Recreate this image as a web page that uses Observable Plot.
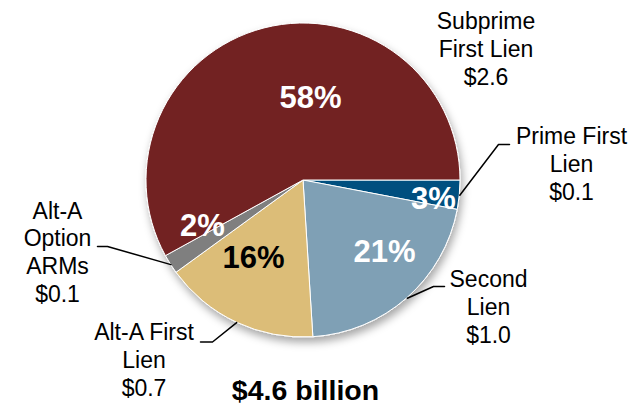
<!DOCTYPE html>
<html><head><meta charset="utf-8">
<script src="https://cdn.jsdelivr.net/npm/d3@7"></script>
<script src="https://cdn.jsdelivr.net/npm/@observablehq/plot@0.6"></script>
<style>html,body{margin:0;padding:0;background:#fff} svg{display:block}</style>
</head><body><div id="chart"></div>
<script>
// ---- data ----
const categories = ["Prime First Lien", "Second Lien", "Alt-A First Lien", "Alt-A Option ARMs", "Subprime First Lien"];
const shares = [3, 21, 16, 2, 58];            // percent of total
const amounts = [0.1, 1.0, 0.7, 0.1, 2.6];    // $ billion
const totalLabel = "$4.6 billion";

// ---- styles / layout ----
const colors = ["#00507f", "#7fa0b5", "#dcbd78", "#7f7f7f", "#722223"];
const W = 644, H = 406, CX = 303, CY = 180, R = 157;
const labelBreaks = ["Prime First\nLien", "Second\nLien", "Alt-A First\nLien", "Alt-A\nOption\nARMs", "Subprime\nFirst Lien"];
const labelPos = [[571, 199], [488, 342], [143.5, 395], [57, 301], [485.5, 84]];   // centre x, last baseline
const leaderElbow = [[498, 144], [433, 286], [212, 341.5], [107, 246], null];
const leaderEnd = [[509, 144], [444, 286], [200, 341.5], [97, 246], null];
const pctOffset = [[130, 28], [81, 81], [-50, 87], [-101, 55], [7, -73]];       // baseline relative to centre
const pctFill = ["white", "white", "black", "white", "white"];

const rows = categories.map((c, i) => ({category: c, share: shares[i], amount: amounts[i], i}));
const arcs = d3.pie().value(d => d.share).sort(null)
  .startAngle(Math.PI / 2).endAngle(Math.PI / 2 + 2 * Math.PI)(rows);

const labels = rows.map((d, i) => ({
  x: labelPos[i][0], y: labelPos[i][1],
  text: labelBreaks[i] + "\n$" + d.amount.toFixed(1)
}));
const pcts = rows.map((d, i) => ({x: CX + pctOffset[i][0], y: CY + pctOffset[i][1], text: d.share + "%", fill: pctFill[i]}));

const leaders = [];
arcs.forEach((a, i) => {
  if (!leaderEnd[i]) return;
  const m = (a.startAngle + a.endAngle) / 2;
  const pts = [[CX + R * Math.sin(m), CY - R * Math.cos(m)], leaderElbow[i], leaderEnd[i]];
  pts.forEach(p => leaders.push({x: p[0], y: p[1], k: i}));
});

function pieMark(index, scales) {
  const cx = scales.x(CX), cy = scales.y(CY), r = scales.x(CX + R) - scales.x(CX);
  const g = d3.create("svg:g");
  const f = g.append("defs").append("filter").attr("id", "pieShadow")
    .attr("x", "-20%").attr("y", "-20%").attr("width", "140%").attr("height", "140%");
  f.append("feDropShadow").attr("dx", 2).attr("dy", 5).attr("stdDeviation", 4)
    .attr("flood-color", "#000").attr("flood-opacity", 0.35);
  const arc = d3.arc().innerRadius(0).outerRadius(r);
  g.append("g").attr("transform", `translate(${cx},${cy})`).attr("filter", "url(#pieShadow)")
    .selectAll("path").data(arcs).join("path")
    .attr("d", arc).attr("fill", (d, i) => colors[i])
    .attr("stroke", "white").attr("stroke-width", 1).attr("stroke-linejoin", "round");
  return g.node();
}

const chart = Plot.plot({
  width: W, height: H, margin: 0,
  style: {fontFamily: "'Liberation Sans', Arial, sans-serif", background: "white"},
  x: {domain: [0, W], range: [0, W], axis: null},
  y: {domain: [0, H], range: [0, H], axis: null},
  marks: [
    pieMark,
    Plot.line(leaders, {x: "x", y: "y", z: "k", stroke: "black", strokeWidth: 1.5}),
    Plot.text(labels, {x: "x", y: "y", text: "text", fontSize: 23, lineAnchor: "bottom", lineHeight: 1.2, textAnchor: "middle", fill: "black"}),
    Plot.text(pcts.filter(d => d.fill === "white"), {x: "x", y: "y", text: "text", fontSize: 31, fontWeight: "bold", lineAnchor: "bottom", fill: "white"}),
    Plot.text(pcts.filter(d => d.fill !== "white"), {x: "x", y: "y", text: "text", fontSize: 31, fontWeight: "bold", lineAnchor: "bottom", fill: "black"}),
    Plot.text([{x: 305, y: 399.5, text: totalLabel}], {x: "x", y: "y", text: "text", fontSize: 28.5, fontWeight: "bold", lineAnchor: "bottom", fill: "black"})
  ]
});
document.getElementById("chart").appendChild(chart);
</script>
</body></html>
